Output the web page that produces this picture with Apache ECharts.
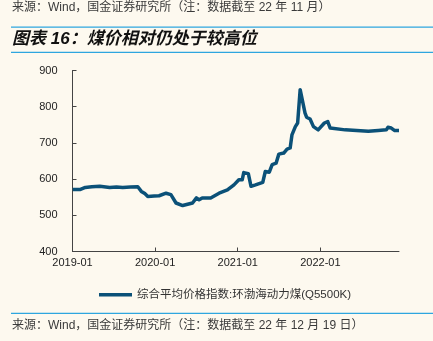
<!DOCTYPE html>
<html>
<head>
<meta charset="utf-8">
<script src="https://cdn.jsdelivr.net/npm/echarts@6/dist/echarts.min.js"></script>
<style>
  html, body { margin: 0; padding: 0; background: #fdf9ef; }
  #chart { width: 433px; height: 341px; }
</style>
</head>
<body>
<div id="chart"></div>
<script>
// 环渤海动力煤(Q5500K)综合平均价格指数, 元/吨
const dates = [
  '2019-01-02', '2019-02-03', '2019-02-25', '2019-03-26', '2019-04-30',
  '2019-06-13', '2019-07-13', '2019-08-10', '2019-09-14', '2019-10-16',
  '2019-11-01', '2019-11-16', '2019-11-29', '2019-12-28', '2020-01-19',
  '2020-02-18', '2020-03-10', '2020-04-02', '2020-05-01', '2020-06-14',
  '2020-06-21', '2020-07-01', '2020-07-13', '2020-07-27', '2020-09-03',
  '2020-10-10', '2020-11-16', '2020-12-15', '2021-01-06', '2021-01-21',
  '2021-01-28', '2021-02-16', '2021-02-27', '2021-03-19', '2021-04-20',
  '2021-05-01', '2021-05-19', '2021-06-01', '2021-06-18', '2021-06-30',
  '2021-07-22', '2021-08-06', '2021-08-20', '2021-08-28', '2021-09-12',
  '2021-09-22', '2021-10-03', '2021-10-10', '2021-10-25', '2021-11-01',
  '2021-11-16', '2021-12-01', '2021-12-22', '2021-12-31', '2022-01-19',
  '2022-02-03', '2022-02-13', '2022-04-19', '2022-06-09', '2022-07-31',
  '2022-09-13', '2022-10-19', '2022-10-26', '2022-11-10', '2022-11-25',
  '2022-12-14'
];
const priceIndex = [
  571, 571, 577, 579, 580,
  577, 578, 577, 578, 579,
  566, 560, 552, 553, 554,
  561, 557, 534, 527, 534,
  535, 548, 543, 548, 548,
  561, 570, 584, 598, 598,
  618, 615, 580, 584, 591,
  621, 619, 640, 644, 669,
  672, 683, 686, 722, 745,
  755, 847, 842, 782, 771,
  766, 745, 736, 734, 755,
  759, 741, 736, 734, 732,
  734, 736, 743, 741, 734,
  734
];
const yTicks = [400, 500, 600, 700, 800, 900];
const xTickLabels = ['2019-01', '2020-01', '2021-01', '2022-01'];
const seriesName = '综合平均价格指数:环渤海动力煤(Q5500K)';

// Dates are placed on a month scale counted from 2019-01
const baseYear = 2019;
function monthOffset(s) {
  const [y, m, d] = s.split('-').map(Number);
  const days = new Date(y, m, 0).getDate();
  return (y - baseYear) * 12 + (m - 1) + (d - 1) / days;
}
const points = dates.map((d, i) => [monthOffset(d), priceIndex[i]]);
const xTickValues = xTickLabels.map(t => monthOffset(t + '-01'));
const xMax = monthOffset(dates[dates.length - 1]);

const latin = 'Liberation Sans, Arial, "Noto Sans CJK SC", sans-serif';
const blue = '#2ea6df';

const chart = echarts.init(document.getElementById('chart'), null, { renderer: 'canvas' });
chart.setOption({
  backgroundColor: '#fdf9ef',
  animation: false,
  grid: { left: 72.5, right: 34, top: 70.5, bottom: 89.5 },
  graphic: [
    { type: 'text', left: 12, top: 2, style: { text: '来源：Wind，国金证券研究所（注：数据截至 22 年 11 月）', fill: '#3a3a3a', font: '12px ' + latin } },
    { type: 'rect', shape: { x: 11, y: 26.5, width: 422, height: 1.2 }, style: { fill: blue } },
    { type: 'text', left: 12, top: 31, style: { text: '图表 16：煤价相对仍处于较高位', fill: '#111', font: 'italic bold 17px ' + latin } },
    { type: 'rect', shape: { x: 11, y: 51.8, width: 422, height: 1.2 }, style: { fill: blue } },
    { type: 'rect', shape: { x: 11, y: 312.8, width: 422, height: 1.2 }, style: { fill: blue } },
    { type: 'text', left: 12, top: 319.5, style: { text: '来源：Wind，国金证券研究所（注：数据截至 22 年 12 月 19 日）', fill: '#3a3a3a', font: '12px ' + latin } }
  ],
  legend: {
    left: 94, top: 284,
    icon: 'rect', itemWidth: 33, itemHeight: 3.5, itemGap: 4,
    textStyle: { color: '#333', fontSize: 11.5, fontFamily: latin },
    data: [seriesName]
  },
  xAxis: {
    type: 'value',
    min: 0, max: xMax,
    axisLine: { lineStyle: { color: '#444', width: 1 } },
    axisTick: { inside: true, length: 4, lineStyle: { color: '#444' }, customValues: xTickValues },
    axisLabel: {
      customValues: xTickValues,
      color: '#222', fontSize: 11, fontFamily: latin, margin: 6,
      formatter: v => xTickLabels[xTickValues.findIndex(t => Math.abs(t - v) < 1e-6)] || ''
    },
    splitLine: { show: false }
  },
  yAxis: {
    type: 'value',
    min: yTicks[0], max: yTicks[yTicks.length - 1], interval: 100,
    axisLine: { show: true, lineStyle: { color: '#444', width: 1 } },
    axisTick: { show: true, inside: true, length: 4, lineStyle: { color: '#444' } },
    axisLabel: { color: '#222', fontSize: 11, fontFamily: latin, margin: 15 },
    splitLine: { show: false }
  },
  series: [{
    name: seriesName,
    type: 'line',
    data: points,
    showSymbol: false,
    symbol: 'none',
    lineStyle: { color: '#0b5178', width: 3.5, join: 'round' },
    itemStyle: { color: '#0b5178' }
  }]
});
</script>
</body>
</html>
